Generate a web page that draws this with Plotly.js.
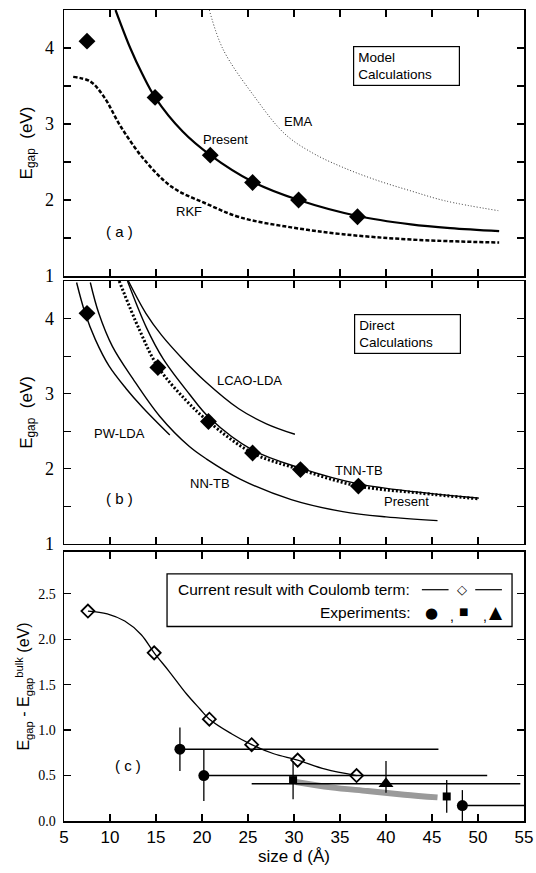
<!DOCTYPE html>
<html>
<head>
<meta charset="utf-8">
<script src="https://cdn.plot.ly/plotly-3.0.1.min.js"></script>
<style>html,body{margin:0;padding:0;background:#fff;}#chart{width:536px;height:873px;}</style>
</head>
<body>
<div id="chart"></div>
<script>
// ---------- Panel (a): model calculations ----------
const sizesA = [7.5, 14.9, 20.9, 25.5, 30.5, 36.9];
const presentA = [4.09, 3.35, 2.59, 2.23, 2.00, 1.78];
const presentCurveAx = [10.6, 12.2, 13.5, 14.9, 17.9, 20.9, 25.5, 30.5, 36.9, 42.7, 47.0, 52.3];
const presentCurveAy = [4.50, 4.00, 3.66, 3.35, 2.90, 2.59, 2.24, 2.00, 1.79, 1.68, 1.63, 1.59];
const emaX = [20.8, 22.3, 25.7, 29.0, 32.0, 35.3, 39.0, 42.7, 46.4, 52.2];
const emaY = [4.50, 3.98, 3.36, 2.87, 2.62, 2.43, 2.26, 2.12, 1.99, 1.86];
const rkfX = [6.0, 7.85, 9.33, 11.2, 13.8, 16.75, 20.5, 24.2, 29.7, 35.3, 42.7, 52.3];
const rkfY = [3.62, 3.56, 3.36, 2.96, 2.52, 2.17, 1.95, 1.77, 1.64, 1.55, 1.48, 1.44];

// ---------- Panel (b): direct calculations ----------
const sizesB = [7.5, 15.2, 20.7, 25.5, 30.7, 37.0];
const presentB = [4.07, 3.35, 2.63, 2.21, 1.99, 1.77];
const presentCurveBx = [11.0, 13.2, 15.2, 18.2, 20.7, 25.5, 30.7, 37.0, 43.5, 50.1];
const presentCurveBy = [4.50, 3.85, 3.36, 2.92, 2.63, 2.21, 1.99, 1.77, 1.68, 1.60];
const tnnX = [11.9, 13.96, 15.8, 18.6, 20.8, 25.5, 30.7, 37.0, 43.5, 50.1];
const tnnY = [4.50, 3.88, 3.46, 3.00, 2.68, 2.25, 2.01, 1.80, 1.69, 1.61];
const pwX = [6.37, 7.30, 8.41, 9.89, 11.74, 13.6, 16.5];
const pwY = [4.48, 4.07, 3.72, 3.37, 3.07, 2.81, 2.45];
const nnX = [7.86, 8.78, 10.26, 12.48, 15.4, 18.6, 20.5, 24.2, 29.7, 35.3, 40.0, 45.6];
const nnY = [4.48, 4.07, 3.63, 3.20, 2.70, 2.30, 2.13, 1.86, 1.59, 1.43, 1.36, 1.31];
const lcaoX = [12.0, 13.9, 15.6, 18.0, 20.3, 24.0, 27.0, 30.1];
const lcaoY = [4.50, 4.07, 3.78, 3.45, 3.17, 2.80, 2.60, 2.46];

// ---------- Panel (c): gap shift vs experiments ----------
const sizesC = [7.6, 14.8, 20.8, 25.4, 30.4, 36.8];
const shiftC = [2.31, 1.85, 1.12, 0.84, 0.67, 0.50];
const shiftCurveX = [7.6, 9.7, 11.6, 13.4, 14.8, 16.4, 18.3, 19.8, 20.8, 23.2, 25.4, 27.8, 30.4, 33.4, 36.8];
const shiftCurveY = [2.31, 2.28, 2.20, 2.05, 1.85, 1.65, 1.40, 1.23, 1.12, 0.96, 0.84, 0.74, 0.67, 0.57, 0.50];
const circX = [17.6, 20.2, 48.3];
const circY = [0.79, 0.50, 0.17];
const circErrY = [0.24, 0.28, 0.17];
const circErrXplus = [28.1, 30.8, 10.0];
const sqX = [29.9, 46.6];
const sqY = [0.45, 0.27];
const sqErrY = [0.21, 0.18];
const triX = [40.0];
const triY = [0.41];
const triErrYplus = [0.25];
const triErrYminus = [0.10];
const triErrX = [14.6];
const bandX = [30.2, 34.0, 38.0, 42.0, 45.6];
const bandY = [0.43, 0.37, 0.33, 0.29, 0.26];

// ---------- tick labels ----------
const gapTickVals = [1, 1.5, 2, 2.5, 3, 3.5, 4];
const gapTickText = ['1', '', '2', '', '3', '', '4'];
const shiftTickVals = [0, 0.5, 1.0, 1.5, 2.0, 2.5];
const shiftTickText = ['0.0', '0.5', '1.0', '1.5', '2.0', '2.5'];
const sizeTickVals = [5, 10, 15, 20, 25, 30, 35, 40, 45, 50, 55];
const sizeTickText = ['5', '10', '15', '20', '25', '30', '35', '40', '45', '50', '55'];

const K = '#000';
const traces = [
  // panel a
  {x: emaX, y: emaY, xaxis: 'x', yaxis: 'y', mode: 'lines', line: {color: '#333', width: 1, dash: '1px,2px', shape: 'spline'}},
  {x: rkfX, y: rkfY, xaxis: 'x', yaxis: 'y', mode: 'lines', line: {color: K, width: 2.5, dash: '4px,2px', shape: 'spline'}},
  {x: presentCurveAx, y: presentCurveAy, xaxis: 'x', yaxis: 'y', mode: 'lines', line: {color: K, width: 2.2, shape: 'spline'}},
  {x: sizesA, y: presentA, xaxis: 'x', yaxis: 'y', mode: 'markers', marker: {symbol: 'diamond', size: 13, color: K}},
  // panel b
  {x: pwX, y: pwY, xaxis: 'x2', yaxis: 'y2', mode: 'lines', line: {color: K, width: 1.4, shape: 'spline'}},
  {x: nnX, y: nnY, xaxis: 'x2', yaxis: 'y2', mode: 'lines', line: {color: K, width: 1.4, shape: 'spline'}},
  {x: lcaoX, y: lcaoY, xaxis: 'x2', yaxis: 'y2', mode: 'lines', line: {color: K, width: 1.4, shape: 'spline'}},
  {x: tnnX, y: tnnY, xaxis: 'x2', yaxis: 'y2', mode: 'lines', line: {color: K, width: 1.4, shape: 'spline'}},
  {x: presentCurveBx, y: presentCurveBy, xaxis: 'x2', yaxis: 'y2', mode: 'lines', line: {color: K, width: 3, dash: '2px,2px', shape: 'spline'}},
  {x: sizesB, y: presentB, xaxis: 'x2', yaxis: 'y2', mode: 'markers', marker: {symbol: 'diamond', size: 13, color: K}},
  // panel c
  {x: bandX, y: bandY, xaxis: 'x3', yaxis: 'y3', mode: 'lines', line: {color: '#9a9a9a', width: 6, shape: 'spline'}},
  {x: shiftCurveX, y: shiftCurveY, xaxis: 'x3', yaxis: 'y3', mode: 'lines', line: {color: K, width: 1.3, shape: 'spline'}},
  {x: sizesC, y: shiftC, xaxis: 'x3', yaxis: 'y3', mode: 'markers', marker: {symbol: 'diamond-open', size: 10, color: K, line: {width: 1.8, color: K}}},
  {x: circX, y: circY, xaxis: 'x3', yaxis: 'y3', mode: 'markers', marker: {symbol: 'circle', size: 11, color: K},
   error_y: {type: 'data', array: circErrY, color: K, thickness: 1.3, width: 0},
   error_x: {type: 'data', symmetric: false, array: circErrXplus, arrayminus: [0, 0, 0], color: K, thickness: 1.5, width: 0}},
  {x: sqX, y: sqY, xaxis: 'x3', yaxis: 'y3', mode: 'markers', marker: {symbol: 'square', size: 8, color: K},
   error_y: {type: 'data', array: sqErrY, color: K, thickness: 1.3, width: 0}},
  {x: triX, y: triY, xaxis: 'x3', yaxis: 'y3', mode: 'markers', marker: {symbol: 'triangle-up', size: 13, color: K},
   error_y: {type: 'data', symmetric: false, array: triErrYplus, arrayminus: triErrYminus, color: K, thickness: 1.3, width: 0},
   error_x: {type: 'data', array: triErrX, color: K, thickness: 1.3, width: 0}}
];

const xbase = {
  range: [5, 55], tickvals: sizeTickVals, ticktext: sizeTickText, ticks: 'inside', ticklen: 7, tickwidth: 1.3, tickcolor: K,
  showline: true, linecolor: K, linewidth: 1.5, mirror: 'ticks', showgrid: false, zeroline: false
};
const ybase = {
  ticks: 'inside', ticklen: 7, tickwidth: 1.3, tickcolor: K, showline: true, linecolor: K, linewidth: 1.5,
  mirror: 'ticks', showgrid: false, zeroline: false
};
const serifTick = {family: 'Liberation Serif', size: 18, color: K};

function lab(x, y, text, ax, size) {
  return {x: x, y: y, xref: 'x' + ax, yref: 'y' + ax, text: text, showarrow: false,
    font: {family: 'Liberation Sans', size: size || 13, color: K}};
}
function sym(x, y, text, size, family) {
  return {x: x, y: y, xref: 'x3', yref: 'y3', text: text, showarrow: false,
    font: {family: family || 'DejaVu Sans', size: size, color: K}};
}

const layout = {
  width: 536, height: 873,
  margin: {l: 64, r: 12, t: 10, b: 52},
  paper_bgcolor: '#fff', plot_bgcolor: '#fff',
  showlegend: false,
  font: {family: 'Liberation Sans', color: K},
  xaxis: Object.assign({}, xbase, {anchor: 'y', showticklabels: false}),
  xaxis2: Object.assign({}, xbase, {anchor: 'y2', showticklabels: false, matches: 'x'}),
  xaxis3: Object.assign({}, xbase, {anchor: 'y3', matches: 'x',
    tickfont: {family: 'Liberation Sans', size: 17, color: K},
    title: {text: 'size d (Å)', font: {family: 'Liberation Sans', size: 17, color: K}, standoff: 3}}),
  yaxis: Object.assign({}, ybase, {anchor: 'x', domain: [0.672, 1], range: [1, 4.5],
    tickvals: gapTickVals, ticktext: gapTickText, tickfont: serifTick, ticklabelstandoff: 5,
    title: {text: 'E<sub>gap</sub>  (eV)', font: {family: 'Liberation Sans', size: 17, color: K}, standoff: 8}}),
  yaxis2: Object.assign({}, ybase, {anchor: 'x2', domain: [0.3416, 0.6658], range: [1, 4.5],
    tickvals: gapTickVals, ticktext: gapTickText, tickfont: serifTick, ticklabelstandoff: 5,
    title: {text: 'E<sub>gap</sub>  (eV)', font: {family: 'Liberation Sans', size: 17, color: K}, standoff: 8}}),
  yaxis3: Object.assign({}, ybase, {anchor: 'x3', domain: [0, 0.3317], range: [0, 2.96],
    tickvals: shiftTickVals, ticktext: shiftTickText, tickfont: {family: 'Liberation Serif', size: 14, color: K}, ticklabelstandoff: 4,
    title: {text: 'E<sub>gap</sub> - E<sub>gap</sub><sup>bulk</sup> (eV)', font: {family: 'Liberation Sans', size: 16, color: K}, standoff: 4}}),
  shapes: [
    {type: 'rect', xref: 'x3', yref: 'y3', x0: 16.2, x1: 53.7, y0: 2.14, y1: 2.72, line: {color: K, width: 1.3}, fillcolor: 'rgba(0,0,0,0)'},
    {type: 'line', xref: 'x3', yref: 'y3', x0: 43.9, x1: 46.8, y0: 2.545, y1: 2.545, line: {color: K, width: 1.2}},
    {type: 'line', xref: 'x3', yref: 'y3', x0: 49.7, x1: 52.6, y0: 2.545, y1: 2.545, line: {color: K, width: 1.2}}
  ],
  annotations: [
    lab(22.5, 2.79, 'Present', ''),
    lab(30.5, 3.03, 'EMA', ''),
    lab(18.6, 1.85, 'RKF', ''),
    lab(11.0, 1.58, '( a )', '', 15),
    {x: 42.25, y: 3.76, xref: 'x', yref: 'y', text: 'Model<br>Calculations', showarrow: false, align: 'left',
     font: {family: 'Liberation Sans', size: 13.5, color: K}, bordercolor: K, borderwidth: 1.2, borderpad: 4, width: 97, height: 30},
    lab(25.2, 3.18, 'LCAO-LDA', '2'),
    lab(11.0, 2.47, 'PW-LDA', '2'),
    lab(20.9, 1.80, 'NN-TB', '2'),
    lab(37.1, 1.98, 'TNN-TB', '2'),
    lab(42.2, 1.57, 'Present', '2'),
    lab(11.0, 1.61, '( b )', '2', 15),
    {x: 42.3, y: 3.80, xref: 'x2', yref: 'y2', text: 'Direct<br>Calculations', showarrow: false, align: 'left',
     font: {family: 'Liberation Sans', size: 13.5, color: K}, bordercolor: K, borderwidth: 1.2, borderpad: 4, width: 97, height: 30},
    lab(12.0, 0.61, '( c )', '3', 15),
    {x: 42.8, y: 2.545, xref: 'x3', yref: 'y3', xanchor: 'right', text: 'Current result with Coulomb term:', showarrow: false,
     font: {family: 'Liberation Sans', size: 15.5, color: K}},
    {x: 42.8, y: 2.29, xref: 'x3', yref: 'y3', xanchor: 'right', text: 'Experiments:', showarrow: false,
     font: {family: 'Liberation Sans', size: 15.5, color: K}},
    sym(48.25, 2.545, '◇', 13),
    sym(44.95, 2.29, '●', 15),
    sym(47.15, 2.26, ',', 14, 'Liberation Sans'),
    sym(48.4, 2.30, '■', 10),
    sym(50.75, 2.26, ',', 14, 'Liberation Sans'),
    sym(52.0, 2.30, '▲', 17)
  ]
};

Plotly.newPlot('chart', traces, layout, {displayModeBar: false, staticPlot: true});
</script>
</body>
</html>
